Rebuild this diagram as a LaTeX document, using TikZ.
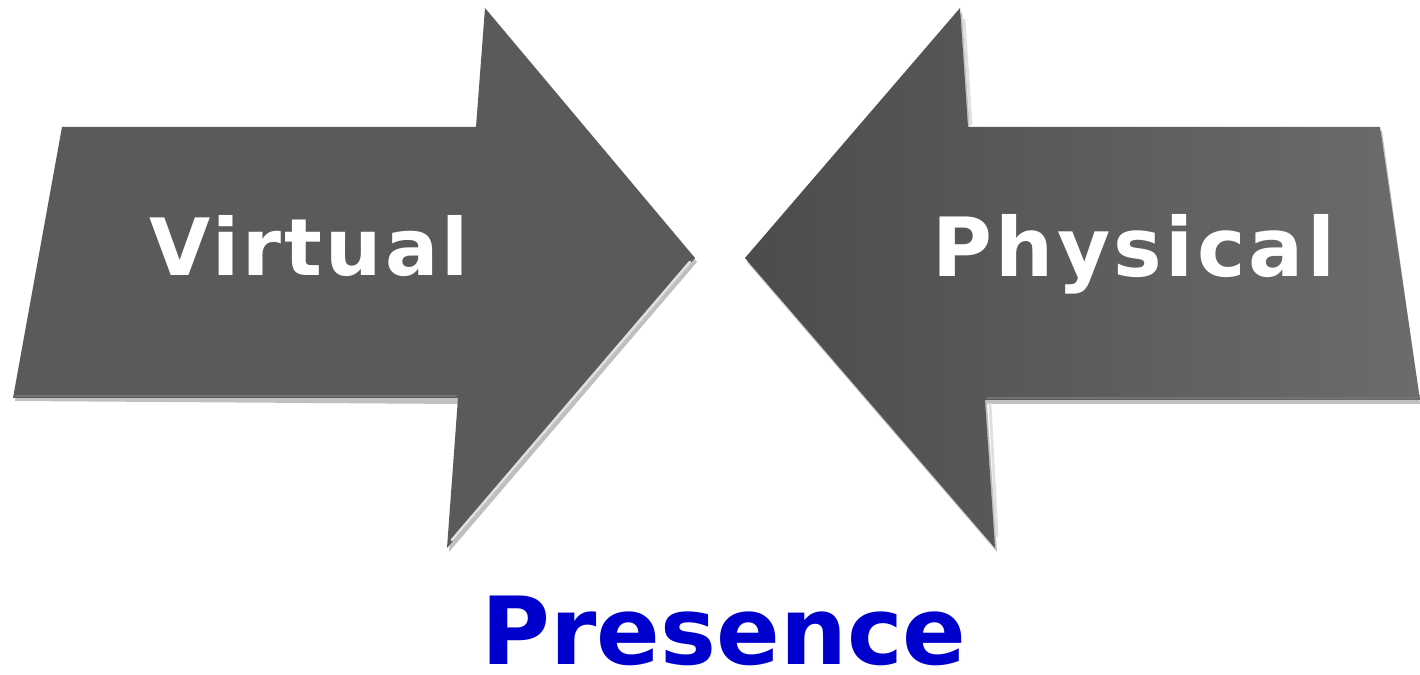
\documentclass[tikz,border=0pt]{standalone}
\usepackage{fontspec}
\setsansfont{DejaVu Sans}
\newfontfamily\widebold[LetterSpace=4]{DejaVu Sans Bold}
\definecolor{arrowgray}{RGB}{90,90,90}
\definecolor{arrowdark}{RGB}{76,76,76}
\definecolor{arrowlight}{RGB}{108,108,108}
\definecolor{presblue}{RGB}{0,0,204}
\tikzset{
  shadowfill/.style={fill=black, opacity=0.25},
  bevel/.style={white!75!gray, line width=1.6pt, line cap=round},
  arrowtext/.style={text=white, anchor=base, inner sep=0pt}
}

\begin{document}
\begin{tikzpicture}[x=0.02cm,y=-0.02cm]
  \useasboundingbox (0,0) rectangle (1420,675);
  \fill[shadowfill] (15,401)--(62,131)--(478,131)--(487,12)--(697,262)--(449,552)--(460,404)--cycle;
  \fill[shadowfill] (1420,404)--(1382,131)--(970,131)--(962,12)--(747,262)--(997,552)--(987,404)--cycle;
  \fill[arrowgray] (13,398)--(62,127)--(476,127)--(485,8)--(695,258)--(447,548)--(458,398)--cycle;
  \shade[left color=arrowdark, right color=arrowlight]
    (1420,400)--(1380,127)--(968,127)--(960,8)--(745,258)--(995,548)--(985,400)--cycle;
  \draw[bevel] (690,262)--(452,540);
  \draw[bevel] (964,20)--(971,124);
  \draw[bevel] (990,404)--(997,536);
  \draw[black!55, line width=1.2pt] (15,396)--(457,396);
  \draw[black!55, line width=1.2pt] (987,398)--(1418,398);
  \node[arrowtext, font=\widebold\fontsize{45}{45}\selectfont] (virtual) at (309,276) {Virtual};
  \node[arrowtext, font=\widebold\fontsize{46.5}{46.5}\selectfont] (physical) at (1134,277) {Physical};
  \node[anchor=base, inner sep=0pt, text=presblue, font=\sffamily\bfseries\fontsize{53.5}{53.5}\selectfont] (presence) at (724,664) {Presence};
\end{tikzpicture}
\end{document}
